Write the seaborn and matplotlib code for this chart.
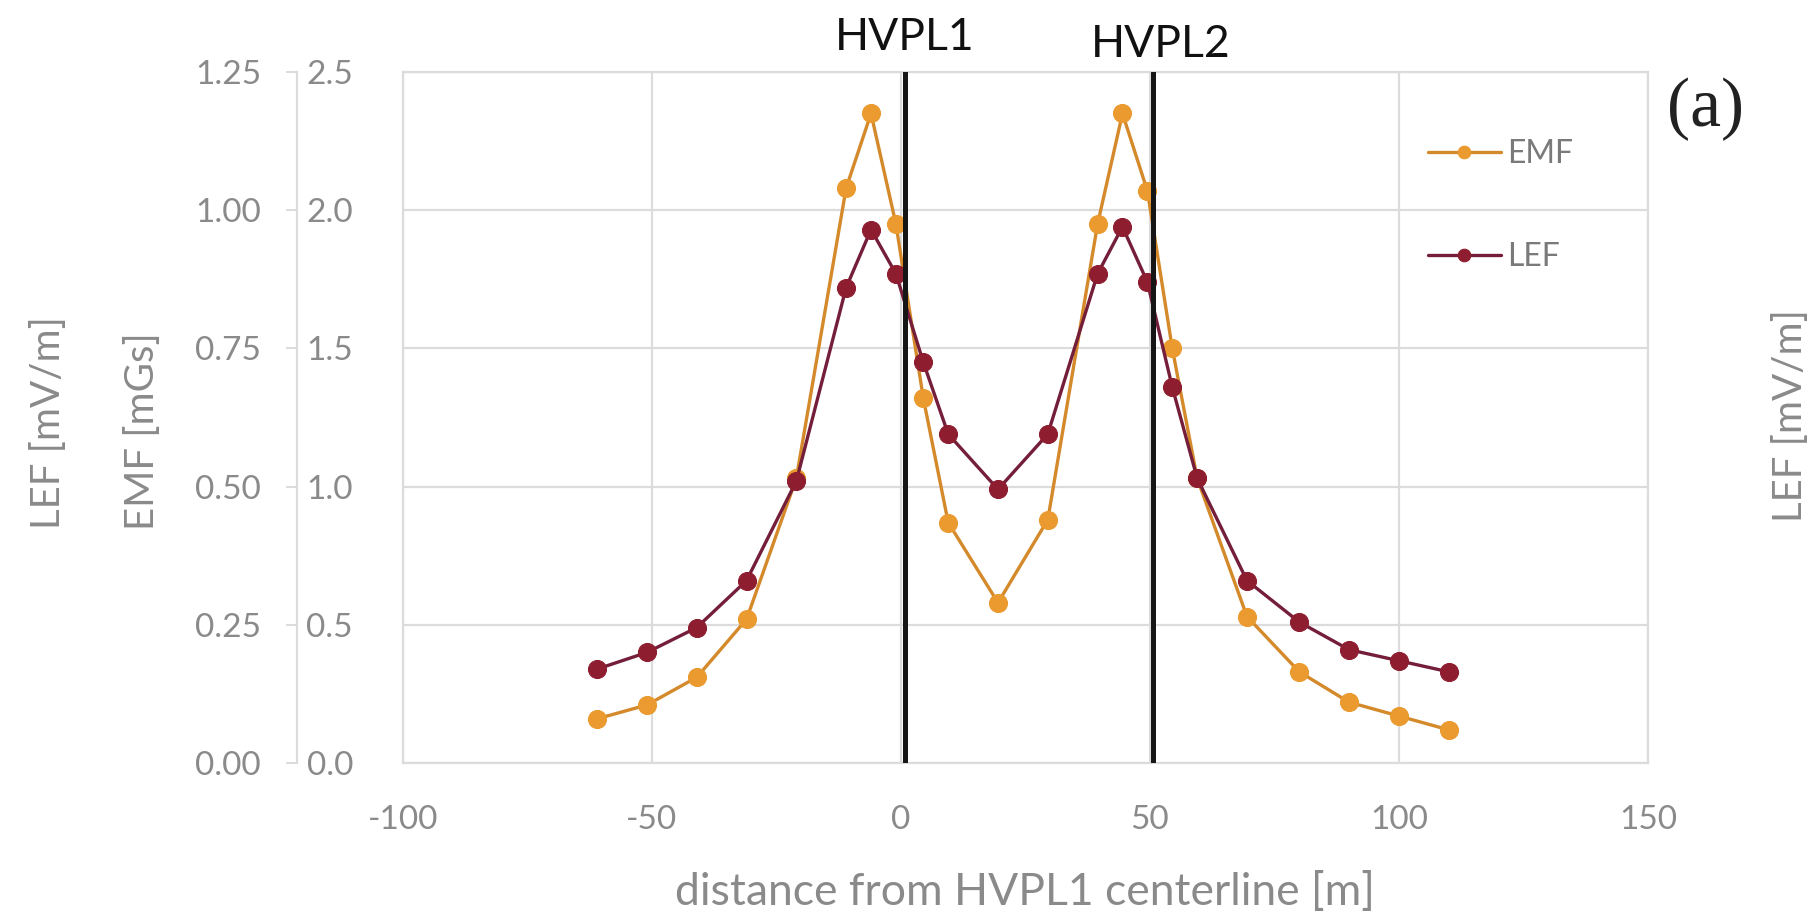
import numpy as np
import pandas as pd
import matplotlib
matplotlib.use('Agg')
import matplotlib.pyplot as plt
import seaborn as sns
from matplotlib.transforms import blended_transform_factory

# distance from HVPL1 centerline [m]
distance = [-61, -51, -41, -31, -21, -11, -6, -1, 4.5, 9.5, 19.5, 29.5,
            39.5, 44.5, 49.5, 54.5, 59.5, 69.5, 80, 90, 100, 110]
# EMF [mGs]
emf = [0.16, 0.21, 0.31, 0.52, 1.03, 2.08, 2.35, 1.95, 1.32, 0.87, 0.58, 0.88,
       1.95, 2.35, 2.07, 1.50, 1.03, 0.53, 0.33, 0.22, 0.17, 0.12]
# LEF [mV/m]
lef = [0.17, 0.20, 0.245, 0.33, 0.51, 0.86, 0.965, 0.885, 0.725, 0.595, 0.495, 0.595,
       0.885, 0.97, 0.87, 0.68, 0.515, 0.33, 0.255, 0.205, 0.185, 0.165]
# power line positions
line_pos = [0.8, 50.6]
line_names = ['HVPL1', 'HVPL2']

emf_line, emf_mark = '#D4892B', '#EA9A2E'
lef_line, lef_mark = '#741E3A', '#8E1D30'
grey = '#8a8a8a'
gridc = '#dcdcdc'

sns.set_style('white')
plt.rcParams['font.family'] = ['Lato', 'DejaVu Sans']

fig = plt.figure(figsize=(18.2, 9.14), dpi=100)
ax = fig.add_axes([0.2214, 0.1652, 0.684, 0.756])
ax2 = ax.twinx()

df = pd.DataFrame({'distance': distance, 'EMF': emf, 'LEF': lef})

sns.lineplot(data=df, x='distance', y='EMF', ax=ax, color=emf_line, linewidth=2.4,
             marker='o', markersize=13, markerfacecolor=emf_mark,
             markeredgecolor=emf_mark, legend=False)
sns.lineplot(data=df, x='distance', y='LEF', ax=ax2, color=lef_line, linewidth=2.4,
             marker='o', markersize=13, markerfacecolor=lef_mark,
             markeredgecolor=lef_mark, legend=False)

ax.set_xlim(-100, 150)
ax.set_ylim(0, 2.5)
ax2.set_ylim(0, 1.25)
ax.set_xticks(np.arange(-100, 151, 50))
ax.set_yticks(np.arange(0, 2.51, 0.5))
ax2.set_yticks(np.arange(0, 1.26, 0.25))
ax.set_xticklabels([str(v) for v in range(-100, 151, 50)])
ax.set_yticklabels(['%.1f' % v for v in np.arange(0, 2.51, 0.5)])
ax2.set_yticklabels(['%.2f' % v for v in np.arange(0, 1.26, 0.25)])

ax.grid(True, color=gridc, linewidth=1.6)
for s in ax.spines.values():
    s.set_color(gridc)
    s.set_linewidth(1.6)
for s in ['top', 'right', 'bottom']:
    ax2.spines[s].set_visible(False)
ax2.spines['left'].set_visible(True)
ax2.spines['left'].set_position(('axes', -0.085))
ax2.spines['left'].set_color(gridc)
ax2.spines['left'].set_linewidth(1.6)
ax2.yaxis.tick_left()
ax2.yaxis.set_label_position('left')

ax.tick_params(axis='x', length=0, pad=30, labelsize=24, labelcolor=grey)
ax.tick_params(axis='y', length=0, pad=36, labelsize=24, labelcolor=grey)
ax2.tick_params(axis='y', length=8, width=1.4, color=gridc, pad=18,
                labelsize=24, labelcolor=grey)

ax.set_xlabel('distance from HVPL1 centerline [m]', fontsize=32, color=grey, labelpad=27)
ax.set_ylabel('EMF [mGs]', fontsize=29, color=grey)
ax2.set_ylabel('LEF [mV/m]', fontsize=29, color=grey)
ax.yaxis.set_label_coords(-0.194, 0.48)
ax2.yaxis.set_label_coords(-0.27, 0.492)
fig.text(0.984, 0.545, 'LEF [mV/m]', rotation=90, fontsize=29, color=grey,
         ha='center', va='center')

trans = blended_transform_factory(ax.transData, ax.transAxes)
for i, (p, n) in enumerate(zip(line_pos, line_names)):
    ax2.axvline(p, color='#161616', linewidth=3.6, zorder=10)
    ax.text(p + 1.5 * i, 1.05 - 0.01 * i, n, transform=trans, fontsize=32,
            color='#111111', ha='center', va='center')

fig.text(0.937, 0.88, '(a)', fontsize=50, color='#222222', ha='center', va='center',
         family=['Liberation Serif', 'DejaVu Serif'])

handles = [ax.lines[0], ax2.lines[0]]
leg = ax2.legend(handles, ['EMF', 'LEF'], loc='upper left', bbox_to_anchor=(0.8, 0.945),
                 frameon=False, fontsize=23, handlelength=2.3, labelspacing=2.3,
                 markerscale=0.7, handletextpad=0.2)
for t in leg.get_texts():
    t.set_color('#7a7a7a')

fig.savefig('out.png', dpi=100, facecolor='white')
